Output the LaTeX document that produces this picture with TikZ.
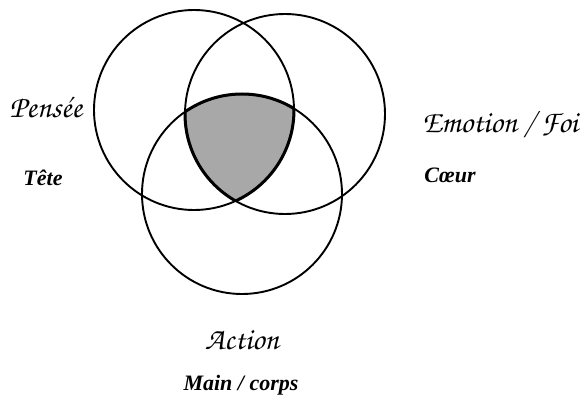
\documentclass[tikz,border=0pt]{standalone}
\usepackage{fontspec}
\setmainfont{Liberation Serif}
\newfontfamily\chorusfont{TeX Gyre Chorus}
\newfontfamily\partfont{Liberation Serif Bold Italic}
\tikzset{
  ring/.style={draw=black, line width=1.9pt},
  rim/.style={draw=black, line width=3pt},
  core/.style={fill=black!34},
  scriptlbl/.style={font=\chorusfont\fontsize{31}{33}\selectfont, inner sep=0pt},
  partlbl/.style={font=\partfont\fontsize{22}{24}\selectfont, inner sep=0pt}
}
\begin{document}
\begin{tikzpicture}[x=1pt, y=-1pt]
\useasboundingbox (0,0) rectangle (584,396);
\coordinate (cL) at (194,110);
\coordinate (cR) at (285,114);
\coordinate (cB) at (242,194);
\def\rr{100}
% shaded triple intersection
\begin{scope}
  \clip (cL) circle (\rr);
  \clip (cR) circle (\rr);
  \fill[core] (cB) circle (\rr);
\end{scope}
% circles
\draw[ring] (cL) circle (\rr);
\draw[ring] (cR) circle (\rr);
\draw[ring] (cB) circle (\rr);
% thicker rim of the shaded region
\begin{scope}
  \clip (cR) circle (\rr); \clip (cB) circle (\rr);
  \draw[rim] (cL) circle (\rr);
\end{scope}
\begin{scope}
  \clip (cL) circle (\rr); \clip (cB) circle (\rr);
  \draw[rim] (cR) circle (\rr);
\end{scope}
\begin{scope}
  \clip (cL) circle (\rr); \clip (cR) circle (\rr);
  \draw[rim] (cB) circle (\rr);
\end{scope}
% labels
\node[scriptlbl] (pensee) at (46,108) {Pensée};
\node[partlbl] (tete) at (43,178) {Tête};
\node[scriptlbl] (emotion) at (500,125) {Emotion / Foi};
\node[partlbl] (coeur) at (450,175) {Cœur};
\node[scriptlbl] (action) at (242,340) {Action};
\node[partlbl] (main) at (241,385) {Main / corps};
\end{tikzpicture}
\end{document}
